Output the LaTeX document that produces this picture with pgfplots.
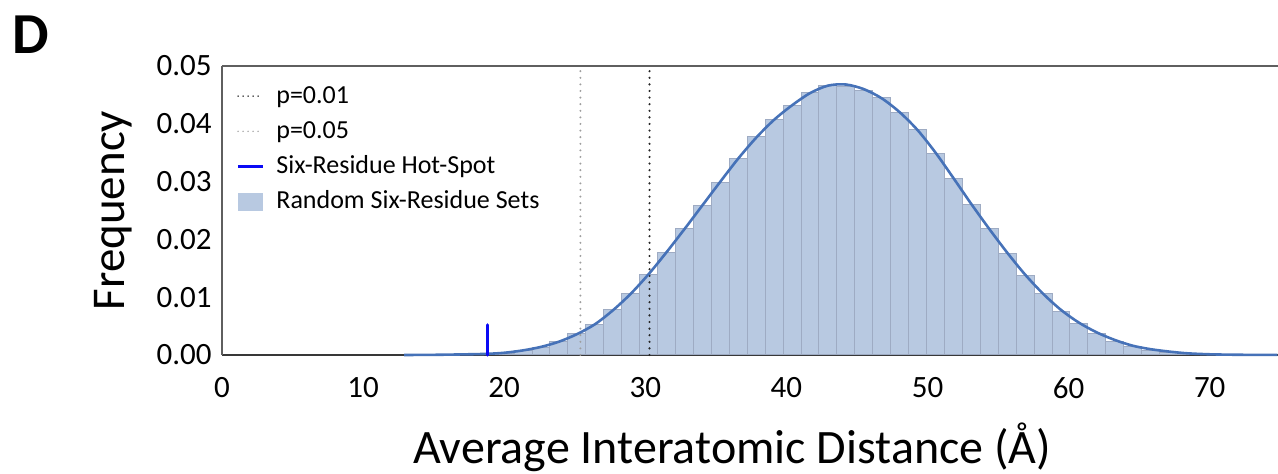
\documentclass[border=0pt]{standalone}
\usepackage{fontspec}
\setmainfont{Carlito}
\usepackage{pgfplots}
\usepackage{pgfplotstable}
\pgfplotsset{compat=1.18}
\definecolor{barfill}{RGB}{184,201,225}
\definecolor{baredge}{RGB}{158,171,195}
\definecolor{fitline}{RGB}{70,114,184}
\definecolor{hotspot}{RGB}{10,10,245}
\definecolor{frameline}{RGB}{95,95,95}

% histogram of random six-residue sets (bin centres, bin width 1.27)
\pgfplotstableread{
x y
18.80 0.0001
20.07 0.0003
21.34 0.0007
22.61 0.0013
23.88 0.0024
25.15 0.0037
26.42 0.0053
27.69 0.0078
28.97 0.0107
30.24 0.0140
31.51 0.0177
32.78 0.0218
34.05 0.0258
35.32 0.0298
36.59 0.0340
37.86 0.0378
39.13 0.0407
40.40 0.0431
41.67 0.0455
42.94 0.0467
44.21 0.0465
45.48 0.0457
46.76 0.0446
48.03 0.0420
49.30 0.0390
50.57 0.0348
51.84 0.0305
53.11 0.0260
54.38 0.0218
55.65 0.0176
56.92 0.0137
58.19 0.0106
59.46 0.0076
60.73 0.0055
62.00 0.0038
63.27 0.0024
64.55 0.0015
65.82 0.0008
67.09 0.0004
68.36 0.0002
}\histdata

% fitted density curve
\pgfplotstableread{
x y
12.9 0.0
15.0 0.00003
17.0 0.0001
18.8 0.0002
20.07 0.0004
21.34 0.0008
22.61 0.0014
23.88 0.0023
25.15 0.0036
26.42 0.0053
27.69 0.0077
28.97 0.0106
30.24 0.0140
31.51 0.0178
32.78 0.0218
34.05 0.0259
35.32 0.0300
36.59 0.0340
37.86 0.0376
39.13 0.0407
40.40 0.0432
41.67 0.0453
42.94 0.0466
44.21 0.0468
45.48 0.0460
46.76 0.0444
48.03 0.0420
49.30 0.0389
50.57 0.0350
51.84 0.0306
53.11 0.0261
54.38 0.0218
55.65 0.0177
56.92 0.0139
58.19 0.0106
59.46 0.0078
60.73 0.0056
62.00 0.0039
63.27 0.0026
64.55 0.0016
65.82 0.0010
67.09 0.0006
68.36 0.0003
70.0 0.00012
72.0 0.00004
74.8 0.00001
}\fitdata

\begin{document}
\begin{tikzpicture}
\begin{axis}[
  scale only axis,
  width=528pt, height=144.5pt,
  xmin=0, xmax=74.84,
  ymin=0, ymax=0.05,
  clip=false,
  axis x line*=bottom,
  axis y line*=left,
  x axis line style={draw=black!78, line width=1.2pt},
  y axis line style={draw=frameline, line width=1pt},
  xtick={0,10,20,30,40,50,60,70},
  ytick={0,0.01,0.02,0.03,0.04,0.05},
  major tick length=0pt,
  scaled y ticks=false,
  /pgf/number format/assume math mode=true,
  tick label style={font=\fontsize{15.5}{18}\selectfont, inner sep=0pt},
  xticklabel style={yshift=-11pt},
  yticklabel style={xshift=-5pt, /pgf/number format/.cd, fixed, fixed zerofill, precision=2},
  xlabel={Average Interatomic Distance (Å)},
  ylabel={Frequency},
  label style={font=\fontsize{23.5}{28}\selectfont},
  xlabel style={font=\fontsize{24}{28}\selectfont, at={(axis description cs:0.483,-0.318)}, anchor=center},
  ylabel style={at={(axis description cs:-0.1032,0.5)}, anchor=center},
  legend style={at={(axis description cs:0.01326,0.9422)}, anchor=north west,
    draw=none, fill=none, inner sep=0pt, row sep=4.6pt,
    font=\fontsize{13}{15}\selectfont,
    nodes={inner sep=0pt, text height=10pt, text depth=3pt},
    /tikz/column sep=6pt},
  legend cell align=left,
]
\addplot[forget plot, ybar, bar width=1.2707, fill=barfill, draw=baredge, line width=0.5pt]
  table[x=x, y=y] {\histdata};
\addplot[forget plot, draw=black!38, line width=1.1pt, line cap=round, dash pattern=on 0pt off 3.3pt]
  coordinates {(25.4,0) (25.4,0.05)};
\addplot[forget plot, draw=black!85, line width=1.2pt, line cap=round, dash pattern=on 0pt off 3.3pt]
  coordinates {(30.3,0) (30.3,0.05)};
\addplot[forget plot, smooth, draw=fitline, line width=1.3pt, no marks]
  table[x=x, y=y] {\fitdata};
\addplot[forget plot, draw=hotspot, line width=1.7pt, line cap=round]
  coordinates {(18.8,0) (18.8,0.0052)};
\draw[frameline, line width=1pt] (rel axis cs:0,1) -- (rel axis cs:1,1);

\addlegendimage{legend image code/.code={\draw[black!85, line width=0.8pt, line cap=round, dash pattern=on 0pt off 2.5pt] (0pt,0pt) -- (12pt,0pt);}}
\addlegendentry{p=0.01}
\addlegendimage{legend image code/.code={\draw[black!38, line width=0.8pt, line cap=round, dash pattern=on 0pt off 2.5pt] (0pt,0pt) -- (12pt,0pt);}}
\addlegendentry{p=0.05}
\addlegendimage{legend image code/.code={\draw[hotspot, line width=1.7pt] (0pt,0pt) -- (12.3pt,0pt);}}
\addlegendentry{Six-Residue Hot-Spot}
\addlegendimage{legend image code/.code={\fill[barfill] (0pt,-4.2pt) rectangle (12.3pt,4.2pt);}}
\addlegendentry{Random Six-Residue Sets}
\end{axis}
\node[font=\fontsize{29}{34}\selectfont\bfseries, anchor=center] at (-95.5pt,160pt) {D};
\pgfresetboundingbox
\path[use as bounding box] (-111pt,-59.5pt) rectangle (528pt,177.5pt);
\end{tikzpicture}
\end{document}
